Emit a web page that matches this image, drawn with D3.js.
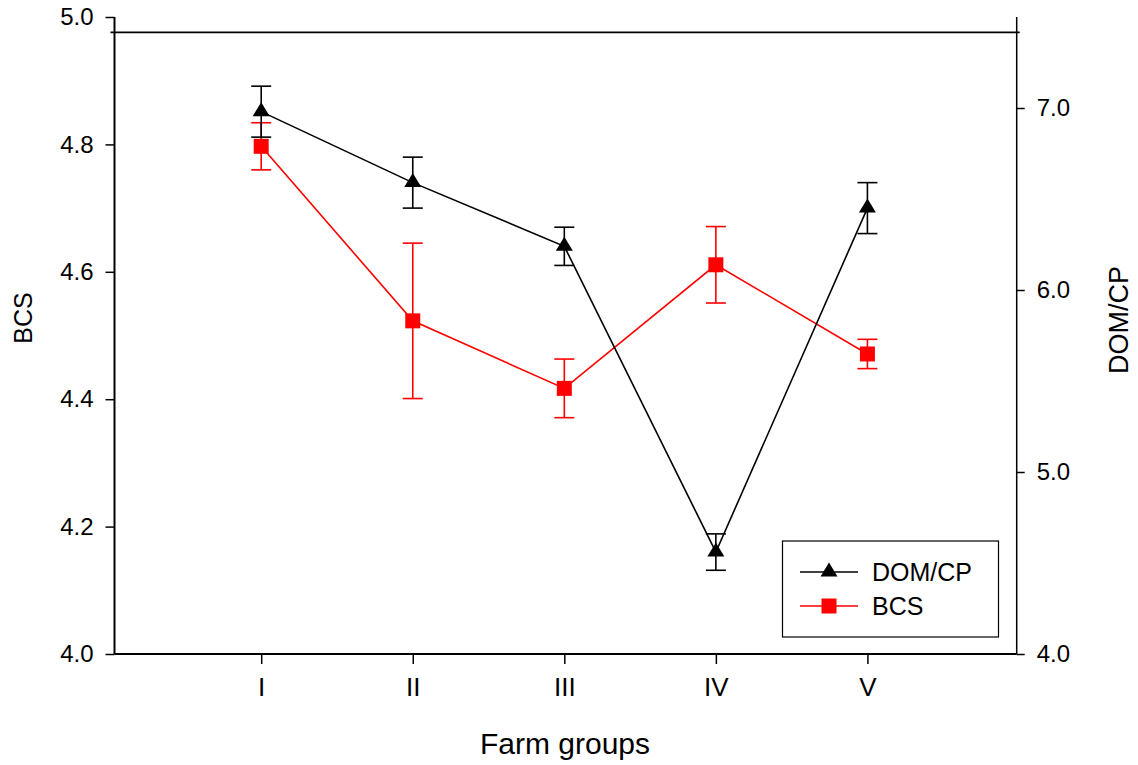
<!DOCTYPE html>
<html>
<head>
<meta charset="utf-8">
<script src="https://cdn.jsdelivr.net/npm/d3@7"></script>
<style>
  html, body { margin: 0; padding: 0; background: #fff; }
  svg { display: block; font-family: "Liberation Sans", Arial, Helvetica, sans-serif; }
</style>
</head>
<body>
<svg id="chart" width="1138" height="765"></svg>
<script>
// ---- data ----
const groups = ["I", "II", "III", "IV", "V"];
const domcpMean = [6.98, 6.59, 6.24, 4.56, 6.45];
const domcpErr  = [0.14, 0.14, 0.105, 0.10, 0.14];
const bcsMean   = [4.797, 4.523, 4.417, 4.611, 4.471];
const bcsErr    = [0.037, 0.122, 0.046, 0.060, 0.023];
const leftTicks  = [4.0, 4.2, 4.4, 4.6, 4.8, 5.0];
const rightTicks = [4.0, 5.0, 6.0, 7.0];
const topLineValue = 4.976; // BCS-scale value of the horizontal line near the top

const svg = d3.select("#chart");
const L = 114.5, R = 1016.7, T = 17, B = 654;

const x = d3.scaleLinear().domain([0.032, 5.985]).range([L, R]);
const xPos = i => x(i + 1);
const yL = d3.scaleLinear().domain([4.0, 5.0]).range([B, T]);
const yR = d3.scaleLinear().domain([4.0, 7.5]).range([B, T]);

// ---- axes ----
const leftAxis = d3.axisLeft(yL).tickValues(leftTicks).tickFormat(d3.format(".1f")).tickSize(9).tickPadding(12);
const gL = svg.append("g").attr("transform", `translate(${L},0)`).call(leftAxis);
gL.select(".domain").attr("stroke-width", 2).attr("d", `M0,${T}V${B}`);
gL.selectAll(".tick line").attr("stroke-width", 1.5);
gL.selectAll("text").attr("font-size", 24).attr("fill", "#000").attr("font-family", null);

const rightAxis = d3.axisRight(yR).tickValues(rightTicks).tickFormat(d3.format(".1f")).tickSize(8).tickPadding(12);
const gR = svg.append("g").attr("transform", `translate(${R},0)`).call(rightAxis);
gR.select(".domain").attr("stroke-width", 1.5).attr("d", `M0,${T}V${B}`);
gR.selectAll(".tick line").attr("stroke-width", 1.5);
gR.selectAll("text").attr("font-size", 24).attr("fill", "#000").attr("font-family", null);

const bottomAxis = d3.axisBottom(x).tickValues(groups.map((g, i) => i + 1))
  .tickFormat((d) => groups[d - 1]).tickSize(10).tickPadding(14);
const gB = svg.append("g").attr("transform", `translate(0,${B})`).call(bottomAxis);
gB.select(".domain").attr("stroke-width", 2).attr("d", `M${L},0H${R}`);
gB.selectAll(".tick line").attr("stroke-width", 1.5);
gB.selectAll("text").attr("font-size", 26).attr("fill", "#000").attr("font-family", null);

// top horizontal line
svg.append("line")
  .attr("x1", L - 4).attr("x2", R + 3)
  .attr("y1", yL(topLineValue)).attr("y2", yL(topLineValue))
  .attr("stroke", "#000").attr("stroke-width", 1.8);

// axis titles
svg.append("text").attr("x", 565).attr("y", 754)
  .attr("text-anchor", "middle").attr("font-size", 30).text("Farm groups");
svg.append("text").attr("transform", `translate(32,${318}) rotate(-90)`)
  .attr("text-anchor", "middle").attr("font-size", 25).text("BCS");
svg.append("text").attr("transform", `translate(1128,${320}) rotate(-90)`)
  .attr("text-anchor", "middle").attr("font-size", 27).text("DOM/CP");

// ---- series ----
const capHalf = 10;
function drawSeries(means, errs, yScale, color, marker) {
  const pts = means.map((m, i) => ({ x: xPos(i), m, e: errs[i] }));
  const g = svg.append("g");
  const eb = g.selectAll(".eb").data(pts).enter().append("g");
  eb.append("line").attr("x1", d => d.x).attr("x2", d => d.x)
    .attr("y1", d => yScale(d.m - d.e)).attr("y2", d => yScale(d.m + d.e))
    .attr("stroke", color).attr("stroke-width", 1.6);
  [1, -1].forEach(s => {
    eb.append("line").attr("x1", d => d.x - capHalf).attr("x2", d => d.x + capHalf)
      .attr("y1", d => yScale(d.m + s * d.e)).attr("y2", d => yScale(d.m + s * d.e))
      .attr("stroke", color).attr("stroke-width", 1.6);
  });
  g.append("path").datum(pts)
    .attr("d", d3.line().x(d => d.x).y(d => yScale(d.m)))
    .attr("fill", "none").attr("stroke", color).attr("stroke-width", 1.6);
  g.selectAll(".mk").data(pts).enter().append("path")
    .attr("transform", d => `translate(${d.x},${yScale(d.m)})`)
    .attr("d", marker).attr("fill", color);
}
const squarePath = "M-7.5,-7.5H7.5V7.5H-7.5Z";
const triPath = "M0,-9.5L8.5,4.5H-8.5Z";

drawSeries(bcsMean, bcsErr, yL, "#ff0000", squarePath);
drawSeries(domcpMean, domcpErr, yR, "#000000", triPath);

// ---- legend ----
const lg = svg.append("g");
lg.append("rect").attr("x", 782.5).attr("y", 541).attr("width", 216).attr("height", 96)
  .attr("fill", "#fff").attr("stroke", "#000").attr("stroke-width", 1.2);
const legendItems = [
  { name: "DOM/CP", color: "#000000", marker: triPath, y: 572 },
  { name: "BCS", color: "#ff0000", marker: squarePath, y: 606 }
];
legendItems.forEach(it => {
  lg.append("line").attr("x1", 800).attr("x2", 858).attr("y1", it.y).attr("y2", it.y)
    .attr("stroke", it.color).attr("stroke-width", 1.6);
  lg.append("path").attr("transform", `translate(829,${it.y})`).attr("d", it.marker).attr("fill", it.color);
  lg.append("text").attr("x", 872).attr("y", it.y + 9).attr("font-size", 25).text(it.name);
});
</script>
</body>
</html>
